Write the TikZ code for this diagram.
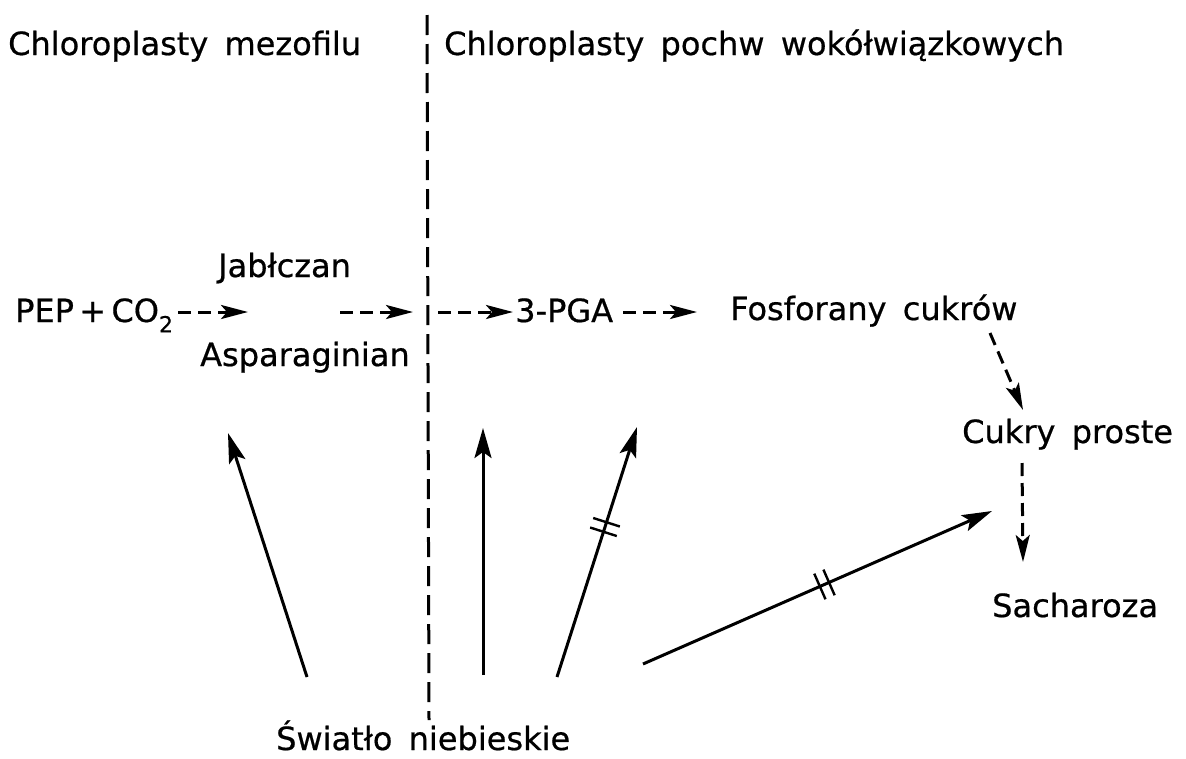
\documentclass[tikz,border=0pt]{standalone}
\usepackage{fontspec}
\setmainfont{DejaVu Sans}[WordSpace=1.6,FakeBold=0.6]
\usetikzlibrary{arrows.meta,decorations.markings}
\begin{document}
\begin{tikzpicture}[x=1pt,y=-1pt,
  lbl/.style={anchor=base west, inner sep=0pt, font=\fontsize{32}{38}\selectfont},
  flow/.style={line width=3pt, dash pattern=on 13pt off 7pt, -{Stealth[length=27pt,width=14pt,inset=6pt]}},
  light/.style={line width=3pt, -{Stealth[length=30pt,width=17pt,inset=6pt]}},
  border/.style={line width=3pt, dash pattern=on 20pt off 9pt},
  tick/.style={postaction={decorate, decoration={markings, mark=at position #1 with {\draw[-,solid,line width=2.4pt] (-5pt,-14pt)--(-5pt,14pt) (5pt,-14pt)--(5pt,14pt);}}}}
]
\useasboundingbox (0,0) rectangle (1186,758);

% labels
\node[lbl] (mezo)  at (8,55)    {Chloroplasty mezofilu};
\node[lbl] (pochw) at (444,55)  {Chloroplasty pochw wokółwiązkowych};
\node[lbl] (jabl)  at (218,277) {Jabłczan};
\node[lbl] (pep)   at (15,322)  {PEP\,+\,CO\raisebox{-0.32em}{\fontsize{22}{22}\selectfont 2}};
\node[lbl] (asp)   at (200,366) {Asparaginian};
\node[lbl] (pga)   at (515,322) {3-PGA};
\node[lbl] (fos)   at (730,320) {Fosforany cukrów};
\node[lbl] (cuk)   at (962,443) {Cukry proste};
\node[lbl] (sach)  at (992,617) {Sacharoza};
\node[lbl] (swiat) at (276,750) {Światło niebieskie};

% dividing line
\coordinate (divtop) at (427,15);
\coordinate (divbot) at (429,720);
\draw[border] (divtop) -- (divbot);

% flow (dashed) arrows
\coordinate (f1s) at (178,312); \coordinate (f1e) at (248,312);
\coordinate (f2s) at (340,312); \coordinate (f2e) at (413,312);
\coordinate (f3s) at (438,312); \coordinate (f3e) at (513,312);
\coordinate (f4s) at (623,312); \coordinate (f4e) at (697,312);
\coordinate (f5s) at (990,333); \coordinate (f5e) at (1023,410);
\coordinate (f6s) at (1022,463); \coordinate (f6e) at (1023,562);
\draw[flow] (f1s) -- (f1e);
\draw[flow] (f2s) -- (f2e);
\draw[flow] (f3s) -- (f3e);
\draw[flow] (f4s) -- (f4e);
\draw[flow] (f5s) -- (f5e);
\draw[flow] (f6s) -- (f6e);

% blue light arrows
\coordinate (l1s) at (307,677); \coordinate (l1e) at (228,433);
\coordinate (l2s) at (483,675); \coordinate (l2e) at (483,428);
\coordinate (l3s) at (557,677); \coordinate (l3e) at (637,427);
\coordinate (l4s) at (643,664); \coordinate (l4e) at (992,511);
\draw[light] (l1s) -- (l1e);
\draw[light] (l2s) -- (l2e);
\draw[light, tick=0.6] (l3s) -- (l3e);
\draw[light, tick=0.52] (l4s) -- (l4e);
\end{tikzpicture}
\end{document}
